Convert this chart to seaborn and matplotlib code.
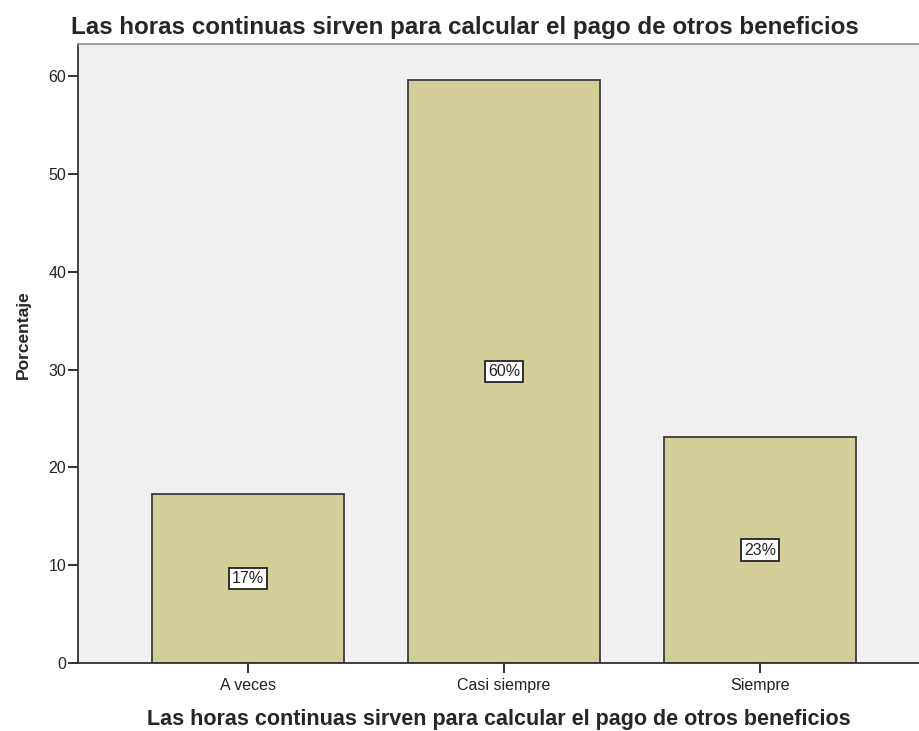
import matplotlib
matplotlib.use("Agg")
import matplotlib.pyplot as plt
import pandas as pd
import seaborn as sns

# Datos (n = 52: 9, 31, 12)
categorias = ["A veces", "Casi siempre", "Siempre"]
porcentajes = [17.3, 59.6, 23.1]
etiquetas = ["17%", "60%", "23%"]
titulo = "Las horas continuas sirven para calcular el pago de otros beneficios"

sns.set_style("white")
plt.rcParams["font.family"] = ["Liberation Sans", "DejaVu Sans"]

df = pd.DataFrame({"categoria": categorias, "porcentaje": porcentajes})

fig = plt.figure(figsize=(9.19, 7.31), dpi=100)
ax = fig.add_axes([0.0849, 0.093, 0.9151, 0.8468])
ax.set_facecolor("#F0F0F0")

sns.barplot(data=df, x="categoria", y="porcentaje", color="#D3CE97",
            width=0.75, edgecolor="#3C3C3C", linewidth=1.3, saturation=1, ax=ax)

# Etiquetas en el centro de cada barra
for i, (v, txt) in enumerate(zip(porcentajes, etiquetas)):
    ax.text(i, v / 2, txt, ha="center", va="center", fontsize=11.5, color="#222222",
            bbox=dict(boxstyle="square,pad=0.2", fc="white", ec="#222222", lw=1.3))

ax.set_xlim(-0.664, 2.621)
ax.set_ylim(0, 63.3)
ax.set_yticks([0, 10, 20, 30, 40, 50, 60])
ax.tick_params(axis="both", direction="out", length=7.5, width=1.3, color="#222222",
               labelsize=11.5, labelcolor="#222222", left=True, bottom=True)
ax.tick_params(axis="y", pad=1)
ax.tick_params(axis="x", pad=3)

ax.spines["right"].set_visible(False)
ax.spines["top"].set_color("#999999")
ax.spines["left"].set_color("#333333")
ax.spines["bottom"].set_color("#333333")
for s in ax.spines.values():
    s.set_linewidth(1.3)

ax.set_ylabel("Porcentaje", fontsize=12.5, fontweight="bold")
ax.yaxis.set_label_coords(-0.056, 0.53)
ax.set_xlabel(titulo, fontsize=15.5, fontweight="bold", labelpad=12)
fig.text(0.506, 0.963, titulo, ha="center", va="center", fontsize=17.4, fontweight="bold")

fig.savefig("out.png", dpi=100)
